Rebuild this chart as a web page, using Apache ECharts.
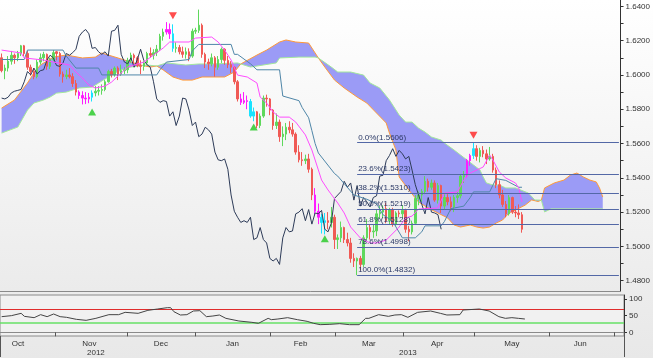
<!DOCTYPE html>
<html>
<head>
<meta charset="utf-8">
<script src="https://cdn.jsdelivr.net/npm/echarts@6/dist/echarts.min.js"></script>
<style>
html,body{margin:0;padding:0;background:#fff;}
#c{width:653px;height:358px;}
</style>
</head>
<body>
<div id="c"></div>
<script>
// ---------- categories: trading days (weekdays) ----------
const firstDay = [2012, 9, 9];   // 9 Oct 2012
const lastDay = [2013, 6, 3];    // 3 Jul 2013 (end of the projected cloud area)
const monthNames = ['Jan','Feb','Mar','Apr','May','Jun','Jul','Aug','Sep','Oct','Nov','Dec'];
const dates = [];
for (let t = Date.UTC(...firstDay); t <= Date.UTC(...lastDay); t += 86400000) {
  const d = new Date(t); const wd = d.getUTCDay();
  if (wd === 0 || wd === 6) continue;
  dates.push(d.toISOString().slice(0, 10));
}

// ---------- daily candles (index 0 = 2012-10-09 ... 161 = 2013-05-22) ----------
const open = [
1.6100,1.6025,1.6040,1.6080,1.6115,1.6100,1.6125,1.6170,1.6125,1.6045,
1.6020,1.5990,1.6075,1.6100,1.6120,1.6050,1.6090,1.6135,1.6125,1.6005,
1.5990,1.6000,1.5990,1.5950,1.5900,1.5880,1.5865,1.5860,1.5870,1.5895,
1.5905,1.5910,1.5915,1.5960,1.6020,1.6000,1.6040,1.6005,1.6025,1.6030,
1.6085,1.6115,1.6100,1.6055,1.6050,1.6070,1.6125,1.6115,1.6130,1.6150,
1.6225,1.6250,1.6265,1.6240,1.6155,1.6160,1.6135,1.6120,1.6135,1.6110,
1.6255,1.6260,1.6290,1.6120,1.6075,1.6065,1.6100,1.6045,1.6090,1.6150,
1.6085,1.6060,1.6045,1.5960,1.5860,1.5840,1.5850,1.5845,1.5760,1.5785,
1.5705,1.5760,1.5865,1.5860,1.5795,1.5705,1.5725,1.5640,1.5655,1.5695,
1.5680,1.5655,1.5550,1.5505,1.5500,1.5510,1.5450,1.5300,1.5205,1.5170,
1.5140,1.5150,1.5140,1.5170,1.5040,1.5050,1.5110,1.5040,1.5020,1.4930,
1.4915,1.4930,1.4895,1.5050,1.5110,1.5085,1.5090,1.5190,1.5200,1.5220,
1.5150,1.5215,1.5130,1.5195,1.5190,1.5210,1.5100,1.5085,1.5135,1.5280,
1.5300,1.5320,1.5380,1.5345,1.5370,1.5270,1.5355,1.5235,1.5285,1.5260,
1.5230,1.5285,1.5295,1.5405,1.5415,1.5500,1.5530,1.5570,1.5525,1.5560,
1.5540,1.5510,1.5525,1.5445,1.5360,1.5300,1.5245,1.5190,1.5285,1.5200,
1.5195,1.5185];
const high = [
1.6125,1.6060,1.6110,1.6140,1.6125,1.6140,1.6175,1.6175,1.6140,1.6060,
1.6040,1.6090,1.6125,1.6135,1.6125,1.6100,1.6145,1.6140,1.6135,1.6020,
1.6030,1.6040,1.6010,1.5970,1.5910,1.5905,1.5900,1.5895,1.5910,1.5935,
1.5935,1.5945,1.5970,1.6030,1.6035,1.6050,1.6050,1.6060,1.6045,1.6100,
1.6130,1.6125,1.6110,1.6085,1.6080,1.6135,1.6160,1.6150,1.6175,1.6240,
1.6270,1.6308,1.6300,1.6295,1.6190,1.6175,1.6165,1.6160,1.6155,1.6270,
1.6275,1.6381,1.6300,1.6130,1.6095,1.6125,1.6110,1.6110,1.6160,1.6155,
1.6110,1.6080,1.6050,1.5970,1.5890,1.5900,1.5880,1.5860,1.5810,1.5790,
1.5775,1.5880,1.5885,1.5865,1.5800,1.5775,1.5740,1.5700,1.5720,1.5730,
1.5720,1.5665,1.5590,1.5550,1.5535,1.5540,1.5460,1.5340,1.5250,1.5190,
1.5195,1.5200,1.5230,1.5185,1.5070,1.5145,1.5115,1.5080,1.5050,1.4960,
1.4935,1.4945,1.5065,1.5160,1.5125,1.5125,1.5215,1.5235,1.5240,1.5255,
1.5225,1.5225,1.5205,1.5210,1.5240,1.5220,1.5120,1.5150,1.5300,1.5320,
1.5335,1.5410,1.5395,1.5390,1.5385,1.5370,1.5360,1.5305,1.5305,1.5290,
1.5300,1.5320,1.5420,1.5440,1.5510,1.5540,1.5606,1.5590,1.5575,1.5585,
1.5565,1.5580,1.5540,1.5460,1.5385,1.5330,1.5265,1.5300,1.5290,1.5235,
1.5245,1.5200];
const low = [
1.6015,1.5975,1.6020,1.6060,1.6065,1.6080,1.6110,1.6110,1.6030,1.5995,
1.5975,1.5980,1.6060,1.6080,1.6030,1.6035,1.6080,1.6085,1.5990,1.5955,
1.5975,1.5980,1.5930,1.5880,1.5860,1.5828,1.5830,1.5835,1.5845,1.5875,
1.5880,1.5885,1.5905,1.5955,1.5985,1.5990,1.5970,1.5995,1.6005,1.6010,
1.6070,1.6065,1.6045,1.6005,1.6025,1.6060,1.6100,1.6090,1.6110,1.6140,
1.6200,1.6235,1.6210,1.6135,1.6130,1.6120,1.6100,1.6095,1.6080,1.6100,
1.6240,1.6245,1.6100,1.6040,1.6030,1.6050,1.5990,1.6030,1.6070,1.6060,
1.6040,1.6010,1.5945,1.5845,1.5825,1.5830,1.5800,1.5750,1.5730,1.5690,
1.5690,1.5750,1.5815,1.5765,1.5680,1.5685,1.5610,1.5585,1.5620,1.5660,
1.5640,1.5535,1.5490,1.5470,1.5480,1.5430,1.5270,1.5185,1.5130,1.5075,
1.5070,1.5100,1.5110,1.4985,1.4985,1.5025,1.5020,1.5000,1.4905,1.4880,
1.4832,1.4860,1.4880,1.5035,1.5040,1.5050,1.5060,1.5160,1.5165,1.5135,
1.5130,1.5115,1.5120,1.5170,1.5165,1.5080,1.5030,1.5070,1.5125,1.5240,
1.5260,1.5305,1.5320,1.5330,1.5260,1.5250,1.5195,1.5215,1.5240,1.5205,
1.5200,1.5255,1.5280,1.5370,1.5400,1.5470,1.5510,1.5500,1.5490,1.5520,
1.5480,1.5500,1.5430,1.5340,1.5280,1.5230,1.5170,1.5180,1.5190,1.5170,
1.5160,1.5080];
const close = [
1.6025,1.6040,1.6080,1.6115,1.6100,1.6125,1.6170,1.6125,1.6045,1.6020,
1.5990,1.6075,1.6100,1.6120,1.6050,1.6090,1.6130,1.6125,1.6005,1.5990,
1.6000,1.5990,1.5950,1.5900,1.5880,1.5865,1.5860,1.5870,1.5895,1.5905,
1.5910,1.5915,1.5960,1.6020,1.6000,1.6040,1.6005,1.6025,1.6030,1.6085,
1.6115,1.6100,1.6055,1.6050,1.6070,1.6125,1.6115,1.6130,1.6150,1.6225,
1.6250,1.6265,1.6240,1.6155,1.6160,1.6135,1.6120,1.6135,1.6110,1.6255,
1.6260,1.6290,1.6120,1.6075,1.6065,1.6100,1.6045,1.6090,1.6150,1.6085,
1.6060,1.6045,1.5960,1.5860,1.5840,1.5850,1.5845,1.5760,1.5785,1.5705,
1.5760,1.5865,1.5860,1.5795,1.5705,1.5725,1.5640,1.5655,1.5695,1.5680,
1.5655,1.5550,1.5505,1.5500,1.5510,1.5450,1.5300,1.5205,1.5170,1.5140,
1.5150,1.5140,1.5170,1.5040,1.5050,1.5110,1.5040,1.5020,1.4930,1.4915,
1.4930,1.4895,1.5050,1.5110,1.5085,1.5090,1.5190,1.5200,1.5220,1.5150,
1.5215,1.5130,1.5195,1.5190,1.5210,1.5100,1.5085,1.5135,1.5280,1.5300,
1.5320,1.5380,1.5345,1.5370,1.5270,1.5355,1.5235,1.5285,1.5260,1.5230,
1.5285,1.5295,1.5410,1.5415,1.5500,1.5530,1.5570,1.5525,1.5560,1.5540,
1.5510,1.5525,1.5445,1.5360,1.5300,1.5245,1.5190,1.5285,1.5200,1.5195,
1.5185,1.5100];

// highlighted signal bars (day indices)
const magentaBars = [24,25,26,27,51,52,74,75,76,97,98,144,145];
const cyanBars = [28,53,77,78,99,100,146];

// ---------- Ichimoku lines, read as [dayIndex, price] vertices ----------
const tenkan = [[0,1.6145],[6,1.6128],[7,1.6099],[13,1.6087],[16,1.6075],[21,1.6058],[23,1.6017],[25,1.5982],[27,1.5941],[29,1.5924],[32,1.5935],[34,1.5958],[36,1.5993],[39,1.6046],[44,1.6075],[47,1.6116],[50,1.6157],[52,1.6192],[58,1.6192],[60,1.6215],[65,1.6221],[67,1.6192],[69,1.6145],[71,1.6087],[73,1.5999],[76,1.5988],[79,1.5953],[80,1.5871],[82,1.5836],[84,1.5784],[86,1.5754],[89,1.5754],[91,1.5725],[94,1.5650],[96,1.5562],[98,1.5446],[99,1.5387],[101,1.5329],[104,1.5253],[106,1.5195],[108,1.5113],[111,1.5049],[114,1.5020],[116,1.5020],[119,1.5037],[123,1.5113],[125,1.5166],[127,1.5177],[129,1.5218],[135,1.5224],[137,1.5311],[141,1.5317],[143,1.5387],[145,1.5428],[149,1.5463],[151,1.5533],[152,1.5504],[154,1.5434],[156,1.5399],[159,1.5370],[160,1.5341],[161,1.5259]];
const kijun = [[0,1.6090],[7,1.6090],[8,1.6145],[19,1.6145],[20,1.6110],[23,1.6040],[30,1.6040],[31,1.6000],[48,1.6000],[49,1.6030],[51,1.6075],[58,1.6090],[59,1.6140],[61,1.6178],[71,1.6178],[72,1.6120],[73,1.6120],[77,1.6065],[79,1.6030],[86,1.6030],[87,1.5877],[92,1.5850],[93,1.5810],[95,1.5750],[96,1.5675],[97,1.5600],[98,1.5545],[103,1.5425],[104,1.5410],[109,1.5300],[113,1.5275],[116,1.5250],[118,1.5185],[121,1.5146],[124,1.5050],[128,1.5050],[130,1.5085],[131,1.5120],[136,1.5120],[137,1.5145],[139,1.5220],[143,1.5235],[145,1.5285],[146,1.5318],[151,1.5318],[153,1.5395],[156,1.5385],[160,1.5345],[161,1.5345]];
const senkouA = [[0,1.5807],[4,1.5854],[8,1.5953],[10,1.6011],[12,1.6058],[16,1.6104],[20,1.6116],[25,1.6099],[29,1.6104],[31,1.6128],[33,1.6116],[36,1.6099],[40,1.6075],[43,1.6058],[46,1.6046],[48,1.6052],[50,1.6029],[53,1.5988],[56,1.5970],[59,1.5970],[62,1.5988],[69,1.5988],[72,1.6017],[74,1.6064],[79,1.6116],[82,1.6145],[86,1.6192],[88,1.6204],[91,1.6192],[95,1.6186],[97,1.6128],[98,1.6099],[100,1.6046],[103,1.5970],[106,1.5924],[110,1.5871],[113,1.5836],[116,1.5778],[119,1.5720],[120,1.5661],[122,1.5562],[123,1.5405],[126,1.5329],[129,1.5259],[132,1.5224],[135,1.5195],[138,1.5166],[140,1.5125],[142,1.5113],[145,1.5125],[147,1.5113],[149,1.5107],[151,1.5113],[153,1.5136],[155,1.5154],[157,1.5195],[159,1.5212],[162,1.5241],[164,1.5271],[166,1.5262],[167,1.5270],[168,1.5341],[171,1.5370],[174,1.5387],[176,1.5416],[178,1.5428],[180,1.5405],[182,1.5387],[184,1.5376],[185,1.5341],[186,1.5288]];
const senkouB = [[0,1.5661],[5,1.5696],[8,1.5795],[10,1.5836],[13,1.5854],[15,1.5871],[17,1.5894],[20,1.5900],[24,1.5924],[28,1.5929],[30,1.5953],[33,1.5988],[35,1.6011],[37,1.6029],[40,1.6046],[45,1.6058],[48,1.6052],[51,1.6070],[57,1.6058],[61,1.6064],[65,1.6064],[73,1.6070],[74,1.6064],[77,1.6046],[85,1.6070],[86,1.6099],[92,1.6104],[97,1.6104],[98,1.6099],[102,1.6046],[104,1.6017],[108,1.6017],[112,1.5999],[114,1.5953],[117,1.5924],[120,1.5854],[123,1.5766],[125,1.5725],[127,1.5725],[129,1.5690],[131,1.5667],[133,1.5638],[136,1.5620],[137,1.5603],[140,1.5562],[142,1.5533],[144,1.5504],[146,1.5475],[148,1.5446],[149,1.5405],[150,1.5370],[152,1.5358],[154,1.5358],[156,1.5341],[159,1.5341],[163,1.5311],[165,1.5271],[167,1.5270],[168,1.5201],[170,1.5219],[186,1.5219]];
const chikouShift = 25;   // lagging span = closes plotted 25 bars back

// ---------- signal arrows ----------
const sellSignals = [[53,1.6345],[146,1.5648]];
const buySignals = [[28,1.5784],[78,1.5696],[100,1.5045]];

// ---------- Fibonacci retracement ----------
const fibStart = 110;  // 2013-03-12 low
const fibPct = ['0.0%','23.6%','38.2%','50.0%','61.8%','78.6%','100.0%'];
const fibLevels = [1.5606,1.5423,1.5310,1.5219,1.5128,1.4998,1.4832];

// ---------- RSI ----------
const rsi = [[0,47],[3,50],[6,57],[7,48],[10,44],[12,53],[14,47],[16,55],[18,47],[20,45],[23,39],[26,36],[29,42],[33,53],[36,53],[38,60],[42,57],[45,66],[48,70],[51,74],[52,74],[53,62],[55,52],[57,53],[59,64],[61,65],[63,47],[65,49],[67,52],[69,42],[73,34],[77,30],[79,27],[82,42],[83,38],[85,40],[88,44],[91,38],[94,33],[96,27],[98,23],[101,24],[104,26],[107,23],[110,23],[112,42],[113,42],[116,53],[119,48],[121,52],[123,53],[125,45],[128,60],[132,64],[135,57],[137,52],[141,53],[142,67],[147,70],[150,64],[153,47],[155,42],[157,44],[159,42],[161,40]];
const rsiOverbought = 70;
const rsiOversold = 30;

// ---------- helpers for axis labelling (calendar only) ----------
const monthStarts = new Set(), yearStarts = new Set(), monthLabelIdx = new Set(), yearLabelIdx = new Set();
dates.forEach((d, i) => {
  if (i > 0 && d.slice(0,7) !== dates[i-1].slice(0,7)) monthStarts.add(i);
  if (i > 0 && d.slice(0,4) !== dates[i-1].slice(0,4)) yearStarts.add(i);
});
const seenMonths = [...new Set(dates.map(d => d.slice(0,7)))];
seenMonths.forEach(m => {
  const y = +m.slice(0,4), mo = +m.slice(5,7) - 1;
  const all = [];
  for (let t = Date.UTC(y, mo, 1); new Date(t).getUTCMonth() === mo; t += 86400000) {
    const wd = new Date(t).getUTCDay();
    if (wd !== 0 && wd !== 6) all.push(new Date(t).toISOString().slice(0,10));
  }
  const mid = all[Math.floor((all.length - 1) / 2)];
  const idx = dates.indexOf(mid);
  if (idx >= 0) monthLabelIdx.add(idx);
});
[...new Set(dates.map(d => d.slice(0,4)))].forEach(y => {
  const idxs = dates.map((d, i) => d.startsWith(y) ? i : -1).filter(i => i >= 0);
  yearLabelIdx.add(Math.floor((idxs[0] + idxs[idxs.length - 1]) / 2));
});

const pair = arr => arr.map(([i, v]) => [dates[i], v]);
const candleData = open.map((o, i) => {
  const item = { value: [o, close[i], low[i], high[i]] };
  let c = null;
  if (magentaBars.includes(i)) c = '#ff1cff';
  if (cyanBars.includes(i)) c = '#19e3ff';
  if (c) item.itemStyle = { color: c, color0: c, borderColor: c, borderColor0: c };
  return item;
});
const chikou = close.slice(chikouShift).map((v, k) => [dates[k], v]);

const FONT = 'Liberation Sans, Arial, sans-serif';
const chart = echarts.init(document.getElementById('c'), null, { renderer: 'canvas', width: 653, height: 358 });

chart.setOption({
  animation: false,
  backgroundColor: { type: 'linear', x: 0, y: 0, x2: 0, y2: 1,
    colorStops: [{ offset: 0, color: '#ffffff' }, { offset: 1, color: '#e8e8e8' }] },
  textStyle: { fontFamily: FONT },
  grid: [
    { left: 0, right: 29, top: 0, height: 291, show: true, borderWidth: 0,
      backgroundColor: { type: 'linear', x: 0, y: 0, x2: 0, y2: 1,
        colorStops: [{ offset: 0, color: '#ffffff' }, { offset: 1, color: '#ebebeb' }] } },
    { left: 0, right: 29, top: 295, height: 41, show: true, borderWidth: 1,
      borderColor: '#8a8a8a', backgroundColor: '#f1f1f1' }
  ],
  xAxis: [
    { type: 'category', gridIndex: 0, data: dates, boundaryGap: true,
      axisLine: { show: true, lineStyle: { color: '#8a8a8a' } },
      axisTick: { show: false }, axisLabel: { show: false }, splitLine: { show: false } },
    { type: 'category', gridIndex: 1, data: dates, boundaryGap: true, position: 'bottom',
      axisLine: { show: true, lineStyle: { color: '#8a8a8a' } },
      axisTick: { show: true, length: 4, interval: i => monthStarts.has(i), lineStyle: { color: '#555' } },
      axisLabel: { interval: i => monthLabelIdx.has(i), formatter: v => monthNames[+v.slice(5,7) - 1],
        fontSize: 8, color: '#333', margin: 4 },
      splitLine: { show: false } },
    { type: 'category', gridIndex: 1, data: dates, boundaryGap: true, position: 'bottom',
      axisLine: { show: false },
      axisTick: { show: true, length: 21, interval: i => yearStarts.has(i), lineStyle: { color: '#555' } },
      axisLabel: { interval: i => yearLabelIdx.has(i), formatter: v => v.slice(0,4),
        fontSize: 8, color: '#333', margin: 13 },
      splitLine: { show: false } }
  ],
  yAxis: [
    { type: 'value', gridIndex: 0, position: 'right', min: 1.474, max: 1.6437, splitNumber: 17,
      splitLine: { show: false },
      axisLine: { show: true, lineStyle: { color: '#333' } },
      axisTick: { show: true, length: 3, lineStyle: { color: '#333' } },
      axisLabel: { fontSize: 8, color: '#333', margin: 5, showMinLabel: false, showMaxLabel: false,
        formatter: v => { const k = Math.round(v * 100);
          return (Math.abs(v * 100 - k) < 1e-6 && k % 2 === 0) ? v.toFixed(4) : ''; } } },
    { type: 'value', gridIndex: 1, position: 'right', min: -11, max: 112, splitNumber: 2,
      splitLine: { show: false },
      axisLine: { show: true, lineStyle: { color: '#333' } },
      axisTick: { show: true, length: 3, lineStyle: { color: '#333' } },
      axisLabel: { fontSize: 8, color: '#333', margin: 5, showMinLabel: false, showMaxLabel: false,
        formatter: v => (Math.abs(v % 50) < 1e-6 ? String(v) : '') } }
  ],
  series: [
    { type: 'custom', name: 'cloud', xAxisIndex: 0, yAxisIndex: 0, z: 1, silent: true,
      data: [[0, senkouA[0][1]]],
      renderItem: (params, api) => {
        const pts = senkouA.map(([i, v]) => api.coord([i, v]))
          .concat(senkouB.slice().reverse().map(([i, v]) => api.coord([i, v])));
        return { type: 'polygon', shape: { points: pts }, style: { fill: '#9b9bf6' } };
      } },
    { type: 'line', name: 'Senkou A', xAxisIndex: 0, yAxisIndex: 0, z: 2, data: pair(senkouA),
      showSymbol: false, lineStyle: { color: '#ff9a3a', width: 1 }, silent: true },
    { type: 'line', name: 'Senkou B', xAxisIndex: 0, yAxisIndex: 0, z: 2, data: pair(senkouB),
      showSymbol: false, lineStyle: { color: '#a3e89c', width: 1 }, silent: true },
    { type: 'candlestick', name: 'Price', xAxisIndex: 0, yAxisIndex: 0, z: 3, barWidth: 2,
      data: candleData, silent: true,
      itemStyle: { color: '#5fd85c', color0: '#f05a55', borderColor: '#5fd85c', borderColor0: '#f05a55', borderWidth: 1 },
      markLine: { silent: true, symbol: ['none', 'none'], animation: false,
        lineStyle: { color: '#5368a6', width: 1, type: 'solid' },
        label: { show: true, position: 'insideStartTop', distance: 1, fontSize: 8, color: '#2b3966',
          fontFamily: FONT, formatter: p => p.name },
        data: fibLevels.map((lv, k) => [
          { name: fibPct[k] + '(' + lv.toFixed(4) + ')', coord: [dates[fibStart], lv] },
          { coord: [dates[dates.length - 1], lv] }]) } },
    { type: 'line', name: 'Chikou', xAxisIndex: 0, yAxisIndex: 0, z: 4, data: chikou,
      showSymbol: false, lineStyle: { color: '#2d3b58', width: 1 }, silent: true },
    { type: 'line', name: 'Kijun', xAxisIndex: 0, yAxisIndex: 0, z: 4, data: pair(kijun),
      showSymbol: false, lineStyle: { color: '#4f86a8', width: 1 }, silent: true },
    { type: 'line', name: 'Tenkan', xAxisIndex: 0, yAxisIndex: 0, z: 4, data: pair(tenkan),
      showSymbol: false, lineStyle: { color: '#ff4cff', width: 1 }, silent: true },
    { type: 'scatter', name: 'Sell', xAxisIndex: 0, yAxisIndex: 0, z: 6, data: pair(sellSignals),
      symbol: 'triangle', symbolRotate: 180, symbolSize: [8, 7], itemStyle: { color: '#ff2121' }, silent: true },
    { type: 'scatter', name: 'Buy', xAxisIndex: 0, yAxisIndex: 0, z: 6, data: pair(buySignals),
      symbol: 'triangle', symbolSize: [8, 7], itemStyle: { color: '#20c820' }, silent: true },
    { type: 'line', name: 'RSI', xAxisIndex: 1, yAxisIndex: 1, z: 5, data: pair(rsi),
      showSymbol: false, lineStyle: { color: '#444', width: 1 }, silent: true },
    { type: 'line', name: 'RSI 70', xAxisIndex: 1, yAxisIndex: 1, z: 3, data: [], silent: true,
      markLine: { silent: true, symbol: ['none', 'none'], animation: false, label: { show: false },
        lineStyle: { color: '#e02c2c', width: 1.2, type: 'solid' },
        data: [{ yAxis: rsiOverbought }] } },
    { type: 'line', name: 'RSI 30', xAxisIndex: 1, yAxisIndex: 1, z: 3, data: [], silent: true,
      markLine: { silent: true, symbol: ['none', 'none'], animation: false, label: { show: false },
        lineStyle: { color: '#66e066', width: 1.5, type: 'solid' },
        data: [{ yAxis: rsiOversold }] } }
  ]
});
</script>
</body>
</html>
